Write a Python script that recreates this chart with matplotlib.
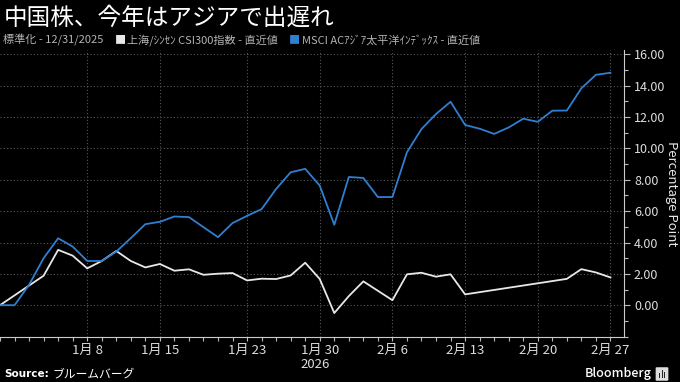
import numpy as np
import matplotlib
matplotlib.use("Agg")
import matplotlib.pyplot as plt
from matplotlib.offsetbox import TextArea, HPacker, AnchoredOffsetbox
from matplotlib.patches import FancyBboxPatch, Rectangle

plt.rcParams['font.family'] = ['Noto Sans CJK JP', 'DejaVu Sans']

# trading days on the axis (one slot each)
days = ["12/31", "1/1", "1/2", "1/5", "1/6", "1/7", "1/8", "1/9", "1/12", "1/13",
        "1/14", "1/15", "1/16", "1/19", "1/20", "1/21", "1/22", "1/23", "1/26", "1/27",
        "1/28", "1/29", "1/30", "2/2", "2/3", "2/4", "2/5", "2/6", "2/9", "2/10",
        "2/11", "2/12", "2/13", "2/16", "2/17", "2/18", "2/19", "2/20", "2/23", "2/24",
        "2/25", "2/26", "2/27"]

nan = np.nan
# 上海/ｼﾝｾﾝ CSI300 (closed 1/1-1/2 and Lunar New Year)
csi300 = [0.00, nan, nan, 1.88, 3.53, 3.16, 2.35, 2.82, 3.46, 2.82,
          2.41, 2.63, 2.20, 2.29, 1.94, 2.01, 2.05, 1.58, 1.69, 1.67,
          1.90, 2.71, 1.67, -0.50, 0.58, 1.52, 0.92, 0.32, 1.97, 2.07,
          1.82, 1.97, 0.69, nan, nan, nan, nan, nan, nan, 1.68,
          2.30, 2.09, 1.77]
# MSCI AC アジア太平洋
msci_apac = [0.00, 0.00, 1.30, 3.00, 4.27, 3.74, 2.82, 2.82, 3.42, 4.28,
             5.17, 5.32, 5.66, 5.62, 4.98, 4.34, 5.24, 5.70, 6.13, 7.42,
             8.48, 8.70, 7.63, 5.13, 8.18, 8.12, 6.90, 6.90, 9.76, 11.24,
             12.20, 12.98, 11.50, 11.26, 10.93, 11.34, 11.90, 11.70, 12.41, 12.42,
             13.84, 14.70, 14.83]

tick_days = ["1/8", "1/15", "1/23", "1/30", "2/6", "2/13", "2/20", "2/27"]
tick_labels = ["1月 8", "1月 15", "1月 23", "1月 30\n2026", "2月 6", "2月 13", "2月 20", "2月 27"]
y_ticks = [0, 2, 4, 6, 8, 10, 12, 14, 16]

white = '#e8e8e8'
blue = '#2f7fd2'
grey = '#b4b4b4'

fig = plt.figure(figsize=(6.8, 3.82), dpi=100, facecolor='black')
ax = fig.add_axes([0.0, 0.119, 0.918, 0.750])
ax.set_facecolor('black')

x = np.arange(len(days))
c = np.array(csi300)
m = np.array(msci_apac)
ok = ~np.isnan(c)
ax.plot(x[ok], c[ok], color=white, lw=1.3, zorder=3)
ax.plot(x, m, color=blue, lw=1.3, zorder=3)

ax.set_xlim(0, 42.95)
ax.set_ylim(-2, 16.28)

# x axis
ax.set_xticks([days.index(d) for d in tick_days])
ax.set_xticklabels(tick_labels)
ax.set_xticks(x, minor=True)
for lab in ax.get_xticklabels():
    lab.set_multialignment('left')

# y axis on the right
ax.yaxis.tick_right()
ax.yaxis.set_label_position('right')
ax.set_yticks(y_ticks)
ax.set_yticklabels(["%.2f" % v for v in y_ticks])
ax.set_yticks(np.arange(-2, 17, 1), minor=True)
ax.set_ylabel("Percentage Point", rotation=270, color=white, fontsize=9.5, va='center')
ax.yaxis.set_label_coords(671 / 624, 0.5)

ax.tick_params(axis='both', which='both', colors='#bbbbbb', length=3, width=0.8,
               labelcolor='#dddddd', labelsize=9.5)
ax.tick_params(axis='x', which='major', pad=2)
ax.tick_params(axis='y', which='major', length=4, pad=3, labelsize=9)

for s in ['left', 'top']:
    ax.spines[s].set_visible(False)
for s in ['right', 'bottom']:
    ax.spines[s].set_color('#cccccc')
    ax.spines[s].set_linewidth(0.8)

ax.grid(True, which='major', color='#5a5a5a', linestyle=(0, (1, 2)), linewidth=0.8)

# title and legend line
fig.text(4 / 680, 1 - 18 / 382, "中国株、今年はアジアで出遅れ", color='white',
         fontsize=17, va='center', ha='left')

parts = [("標準化 - 12/31/2025", grey), ("■", white), ("上海/ｼﾝｾﾝ CSI300指数 - 直近値", grey),
         ("■", blue), ("MSCI ACｱｼﾞｱ太平洋ｲﾝﾃﾞｯｸｽ - 直近値", grey)]
areas = [TextArea(t, textprops=dict(color=col, fontsize=8)) for t, col in parts]
row = HPacker(children=[areas[0], HPacker(children=areas[1:3], sep=1, pad=0),
                        HPacker(children=areas[3:5], sep=1, pad=0)], sep=8, pad=0, align='center')
anch = AnchoredOffsetbox(loc='center left', child=row, bbox_to_anchor=(3 / 680, 1 - 40 / 382),
                         bbox_transform=fig.transFigure, frameon=False, pad=0, borderpad=0)
fig.add_artist(anch)

# footer
fig.text(4 / 680, 1 - 374 / 382, "Source:", color='white', fontsize=7.5,
         fontweight='bold', va='center', ha='left', family='DejaVu Sans')
fig.text(52 / 680, 1 - 374 / 382, "ブルームバーグ", color='white', fontsize=8.5,
         va='center', ha='left')
fig.text(652 / 680, 1 - 373 / 382, "Bloomberg", color='white', fontsize=9,
         fontweight='medium', va='center', ha='right')
fig.patches.append(FancyBboxPatch((657 / 680, 1 - 380 / 382), 10 / 680, 12 / 382,
                                  boxstyle="round,pad=0.002", transform=fig.transFigure,
                                  facecolor='#dddddd', edgecolor='none'))
for i, h in enumerate([5, 8, 6]):
    fig.patches.append(Rectangle(((659 + 2.5 * i) / 680, 1 - 378 / 382), 1.4 / 680, h / 382,
                                 transform=fig.transFigure, facecolor='#222222', edgecolor='none'))

fig.savefig('out.png', dpi=100, facecolor='black')
